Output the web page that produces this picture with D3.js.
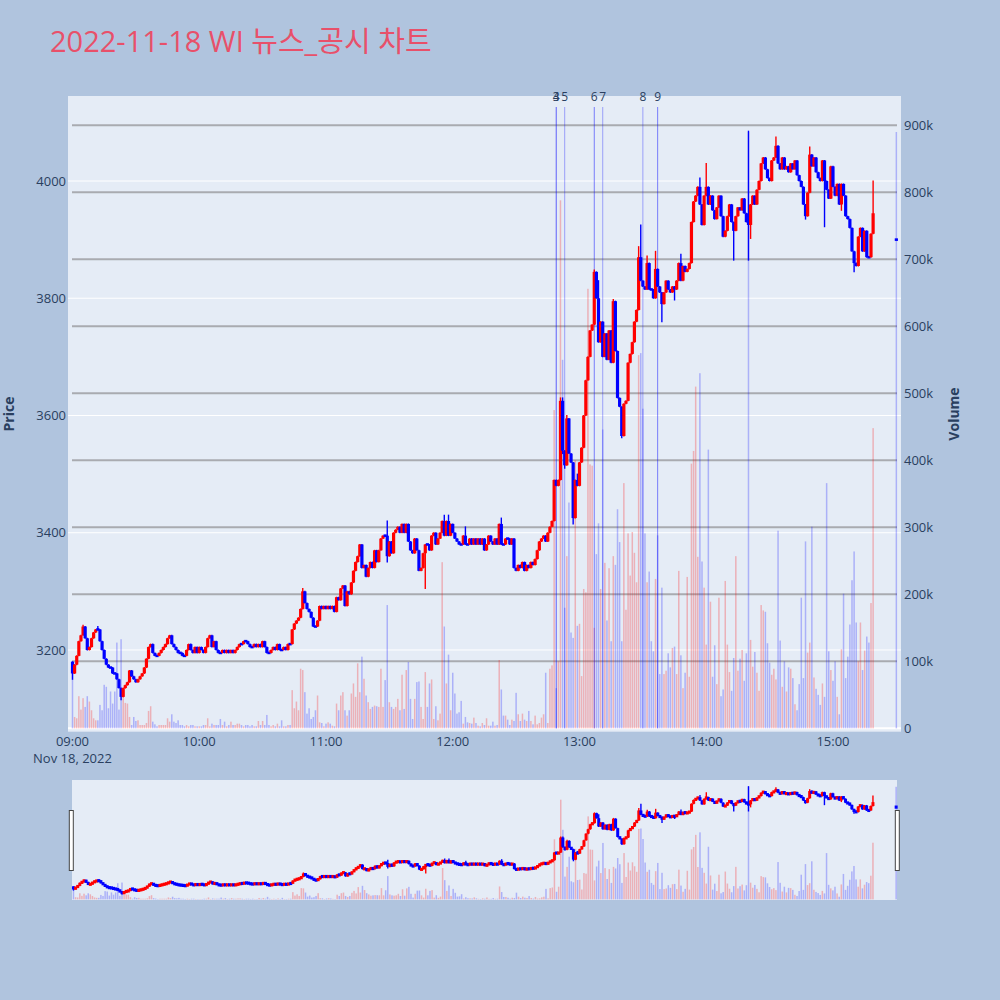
<!DOCTYPE html>
<html><head><meta charset="utf-8">
<script src="https://cdn.jsdelivr.net/npm/d3@7"></script>
<style>
body{margin:0;background:#b0c4de;}
svg{display:block;font-family:"Open Sans","Noto Sans CJK KR",sans-serif;}
</style>
</head><body>
<svg id="chart" width="1000" height="1000"></svg>
<script>
// ---------------- data ----------------
const chartTitle = "2022-11-18 WI 뉴스_공시 차트";
const sessionDate = [2022, 10, 18];          // Nov 18, 2022
const firstOpen = 3180;
// per-minute closes from 09:00 (index = minutes after 09:00)
const closes = [
3160,3175,3190,3215,3225,3240,3220,3200,3205,3220,
3230,3235,3235,3215,3200,3185,3175,3170,3170,3160,
3160,3150,3135,3120,3135,3140,3145,3165,3155,3150,
3145,3150,3155,3160,3170,3185,3205,3210,3195,3190,
3190,3195,3200,3205,3210,3220,3225,3210,3205,3200,
3195,3195,3190,3190,3200,3210,3200,3195,3205,3195,
3205,3200,3195,3205,3220,3225,3205,3215,3200,3195,
3195,3200,3195,3200,3195,3200,3195,3200,3205,3210,
3210,3215,3215,3210,3205,3205,3210,3205,3210,3205,
3215,3205,3195,3195,3200,3205,3200,3210,3200,3200,
3205,3200,3210,3210,3235,3245,3250,3255,3270,3300,
3280,3270,3265,3255,3240,3240,3250,3275,3270,3275,
3270,3275,3270,3275,3265,3290,3285,3305,3310,3275,
3300,3295,3315,3335,3350,3360,3380,3340,3345,3325,
3340,3350,3340,3370,3350,3370,3390,3395,3395,3360,
3385,3365,3400,3405,3410,3400,3415,3400,3415,3385,
3370,3365,3390,3370,3335,3340,3365,3380,3380,3370,
3395,3400,3380,3390,3400,3420,3395,3420,3395,3415,
3400,3390,3385,3380,3380,3395,3380,3380,3390,3380,
3390,3380,3390,3380,3390,3370,3380,3395,3385,3380,
3390,3380,3415,3380,3380,3390,3390,3380,3390,3340,
3335,3345,3340,3350,3335,3345,3340,3350,3345,3355,
3370,3385,3390,3395,3385,3400,3410,3420,3490,3480,
3490,3625,3540,3515,3595,3535,3520,3425,3490,3480,
3520,3545,3600,3660,3700,3745,3755,3845,3800,3725,
3760,3700,3740,3695,3745,3690,3795,3710,3630,3615,
3565,3620,3625,3690,3705,3725,3760,3780,3870,3830,
3820,3815,3860,3815,3815,3800,3850,3820,3810,3790,
3810,3830,3815,3810,3820,3815,3830,3860,3830,3855,
3845,3850,3860,3930,3965,3975,3990,3960,3925,3975,
3990,3960,3975,3950,3935,3955,3975,3940,3905,3915,
3940,3960,3930,3915,3940,3955,3950,3970,3945,3930,
3925,3960,3975,3960,3985,4000,4030,4040,4020,4005,
4000,4035,4040,4060,4030,4020,4040,4020,4025,4015,
4030,4020,4035,4010,4000,3990,3960,3940,3980,4045,
4025,4040,4015,4005,4000,4035,4000,3985,3970,4025,
3990,3975,3995,3960,3995,3975,3940,3935,3920,3880,
3860,3855,3905,3920,3880,3915,3870,3870,3910,3945
];
// per-minute volume, thousands of shares
const volumes = [
84,17,15,48,28,45,32,48,40,27,
15,12,12,35,27,65,62,30,55,37,
55,128,28,133,45,38,37,17,5,17,
11,12,5,5,5,8,26,33,10,6,
3,5,5,5,5,15,10,21,10,8,
12,5,5,3,5,3,5,5,3,3,
3,3,5,5,15,3,7,5,5,5,
14,5,10,3,5,10,5,5,7,7,
5,3,5,5,3,5,3,3,11,5,
11,5,20,5,3,5,3,7,3,12,
3,3,5,5,57,30,40,27,89,87,
54,22,30,14,17,27,49,9,8,3,
7,9,7,4,3,37,27,49,54,27,
19,27,52,67,47,97,54,107,74,49,
39,29,32,34,33,32,89,32,72,184,
39,32,29,32,44,27,80,29,87,99,
44,14,44,69,70,32,14,84,32,67,
73,14,33,12,22,248,152,67,110,27,
83,52,22,24,41,7,17,9,8,7,
16,8,4,3,8,5,15,4,4,10,
4,5,102,58,19,19,13,5,13,11,
53,21,11,22,13,11,26,11,6,19,
6,8,16,21,83,8,89,94,475,60,
100,788,550,180,257,337,143,135,400,153,
156,78,208,203,656,394,392,150,260,306,
208,446,247,161,239,130,257,244,327,278,
130,366,177,291,228,293,262,218,557,560,
477,291,218,234,130,115,223,288,81,210,
81,86,112,91,120,122,81,235,109,60,
83,226,77,395,414,510,256,530,249,210,
125,416,189,77,124,66,195,48,58,220,
125,84,56,105,257,86,104,117,71,112,
890,132,92,114,83,56,184,176,174,127,
98,80,89,73,295,131,62,100,55,91,
89,75,36,27,66,195,75,279,113,128,
301,76,59,50,35,67,47,366,115,87,
71,100,47,21,118,201,75,107,155,221,
264,158,100,158,87,116,137,128,187,448
];
// wick extremes that reach beyond the candle body: [minute, high, low]
const wicks = [
[0,null,3150],[5,3242,null],[12,3240,null],[23,null,3115],[109,3305,null],
[149,3420,3350],[167,null,3305],[176,3430,null],[178,3430,null],[186,3410,null],
[203,3425,null],[231,3630,null],[232,3630,3535],[233,null,3510],[234,3600,null],
[237,null,3415],[239,3500,null],[247,3848,null],[249,3830,null],[256,3798,null],
[260,null,3562],[268,3888,null],[269,3925,null],[272,3872,null],[276,3880,null],
[279,null,3760],[285,null,3797],[288,3875,null],[297,4005,null],[300,4030,null],
[313,null,3865],[320,4085,3865],[321,null,3902],[333,4075,null],[347,null,3935],
[349,4058,null],[356,null,3922],[364,null,3950],[370,null,3845],[379,4000,null]
];
// closing auction (15:30)
const auctionTime = "15:30";
const auctionPrice = 3900;
const auctionVolume = 890;
// news / disclosure markers
const newsLabels = ["3","4","5","6","7","8","9"];
const newsTimes  = ["12:49","12:49","12:53","13:07","13:11","13:30","13:37"];
const newsKinds  = ["a","a","a","b","a","a","b"];
const priceTicks = [3200,3400,3600,3800,4000];
const volumeTicks = [0,100,200,300,400,500,600,700,800,900];
const timeTickLabels = ["09:00","10:00","11:00","12:00","13:00","14:00","15:00"];
const dateLabel = "Nov 18, 2022";

// ---------------- build ----------------
const atTime = s => { const [h,m] = s.split(":").map(Number); return new Date(sessionDate[0],sessionDate[1],sessionDate[2],h,m); };
const t0 = atTime("09:00");
const atMin = m => new Date(t0.getTime() + m*60000);
const wickMap = new Map(wicks.map(w => [w[0], w]));
const candles = closes.map((c,i) => {
  const o = i === 0 ? firstOpen : closes[i-1];
  let h = Math.max(o,c), l = Math.min(o,c);
  const w = wickMap.get(i);
  if (w) { if (w[1] != null) h = Math.max(h, w[1]); if (w[2] != null) l = Math.min(l, w[2]); }
  return {t: atMin(i), o, h, l, c, v: volumes[i]};
});
candles.push({t: atTime(auctionTime), o: auctionPrice, h: auctionPrice, l: auctionPrice, c: auctionPrice, v: auctionVolume});
const news = newsLabels.map((lab,i) => ({label: lab, t: atTime(newsTimes[i]), kind: newsKinds[i]}));

const UP = "#ff0000", DOWN = "#0000ff";
const colorOf = d => d.c > d.o ? UP : DOWN;

const svg = d3.select("#chart");
svg.append("rect").attr("width",1000).attr("height",1000).attr("fill","#b0c4de");

// title
svg.append("text").attr("x",50).attr("y",52).attr("font-size",29)
  .attr("fill","#e8506a").text(chartTitle);

// main panel geometry
const L = 68, R = 901, T = 96, B = 731.7;
const x = d3.scaleTime().domain([atMin(-2.13), atMin(392.2)]).range([L, R]);
const yP = d3.scaleLinear().domain([3060.6, 4145]).range([B, T]);
const yV = d3.scaleLinear().domain([-5, 943.7]).range([B, T]);

svg.append("rect").attr("x",L).attr("y",T).attr("width",R-L).attr("height",B-T).attr("fill","#e5ecf6");

// price gridlines (white)
svg.append("g").selectAll("line").data(priceTicks).join("line")
  .attr("x1",L).attr("x2",R).attr("y1",d=>yP(d)).attr("y2",d=>yP(d))
  .attr("stroke","#ffffff").attr("stroke-width",1);
// volume gridlines (gray), zero line white
svg.append("g").selectAll("line").data(volumeTicks).join("line")
  .attr("x1",d=> d===0 ? L : 72).attr("x2",d=> d===0 ? R : 897)
  .attr("y1",d=>yV(d)).attr("y2",d=>yV(d))
  .attr("stroke",d=> d===0 ? "#ffffff" : "#a9abb0").attr("stroke-width",2);

function drawBars(g, xs, yv, barW){
  g.append("g").selectAll("rect").data(candles).join("rect")
    .attr("x",d=>xs(d.t)-barW/2).attr("width",barW)
    .attr("y",d=>yv(d.v)).attr("height",d=>Math.max(0,yv(0)-yv(d.v)))
    .attr("fill",colorOf).attr("fill-opacity",0.25);
}
function drawCandles(g, xs, yp, bodyW, wickW, minBody){
  g.append("g").selectAll("line").data(candles).join("line")
    .attr("x1",d=>xs(d.t)).attr("x2",d=>xs(d.t))
    .attr("y1",d=>yp(d.h)-0.5).attr("y2",d=>yp(d.l)+0.5)
    .attr("stroke",colorOf).attr("stroke-width",wickW);
  g.append("g").selectAll("rect").data(candles).join("rect")
    .attr("x",d=>xs(d.t)-bodyW/2).attr("width",bodyW)
    .attr("y",d=>{const top=yp(Math.max(d.o,d.c)), bot=yp(Math.min(d.o,d.c)); return bot-top<minBody ? (top+bot)/2-minBody/2 : top;})
    .attr("height",d=>Math.max(minBody, yp(Math.min(d.o,d.c))-yp(Math.max(d.o,d.c))))
    .attr("fill",colorOf);
}

const main = svg.append("g");
drawBars(main, x, yV, 1.5);

// news lines
main.append("g").selectAll("line").data(news).join("line")
  .attr("x1",d=>x(d.t)).attr("x2",d=>x(d.t)).attr("y1",107).attr("y2",yV(0))
  .attr("stroke","#0000ff").attr("stroke-opacity",d=>d.kind==="b"?0.48:0.33).attr("stroke-width",1);

drawCandles(main, x, yP, 3.2, 1.4, 2.6);

main.append("g").selectAll("text").data(news).join("text")
  .attr("x",d=>x(d.t)).attr("y",100.5).attr("text-anchor","middle")
  .attr("font-size",12).attr("fill","#2a3f5f").text(d=>d.label);

// axes labels
const tickFont = 13, tickColor = "#2a3f5f";
svg.append("g").selectAll("text").data(priceTicks).join("text")
  .attr("x",66).attr("y",d=>yP(d)).attr("dy","0.35em").attr("text-anchor","end")
  .attr("font-size",tickFont).attr("fill",tickColor).text(d=>d);
svg.append("g").selectAll("text").data(volumeTicks).join("text")
  .attr("x",904).attr("y",d=>yV(d)).attr("dy","0.35em").attr("text-anchor","start")
  .attr("font-size",tickFont).attr("fill",tickColor).text(d=> d===0 ? "0" : d+"k");
svg.append("g").selectAll("text").data(timeTickLabels).join("text")
  .attr("x",d=>x(atTime(d))).attr("y",746).attr("text-anchor","middle")
  .attr("font-size",tickFont).attr("fill",tickColor).text(d=>d);
svg.append("text").attr("x",x(atTime(timeTickLabels[0]))).attr("y",762.5).attr("text-anchor","middle")
  .attr("font-size",tickFont).attr("fill",tickColor).text(dateLabel);

svg.append("text").attr("transform","translate(14,414) rotate(-90)").attr("text-anchor","middle")
  .attr("font-size",14).attr("font-weight","bold").attr("fill",tickColor).text("Price");
svg.append("text").attr("transform","translate(959,414) rotate(-90)").attr("text-anchor","middle")
  .attr("font-size",14).attr("font-weight","bold").attr("fill",tickColor).text("Volume");

// range slider
const SL = 72, SR = 897, ST = 780, SB = 900;
const xs = d3.scaleTime().domain([atMin(-0.7), atMin(390.4)]).range([SL, SR]);
const ysP = d3.scaleLinear().domain([3060.6, 4145]).range([SB, ST]);
const ysV = d3.scaleLinear().domain([-5, 943.7]).range([SB, ST]);
svg.append("rect").attr("x",SL).attr("y",ST).attr("width",SR-SL).attr("height",SB-ST).attr("fill","#e5ecf6");
const slider = svg.append("g");
drawBars(slider, xs, ysV, 1.5);
drawCandles(slider, xs, ysP, 3, 1.4, 3.2);
[SL-2.7, SR-1.7].forEach(hx => {
  svg.append("rect").attr("x",hx).attr("y",810.5).attr("width",4).attr("height",60)
    .attr("fill","#ffffff").attr("stroke","#444").attr("stroke-width",1);
});
</script>
</body></html>
